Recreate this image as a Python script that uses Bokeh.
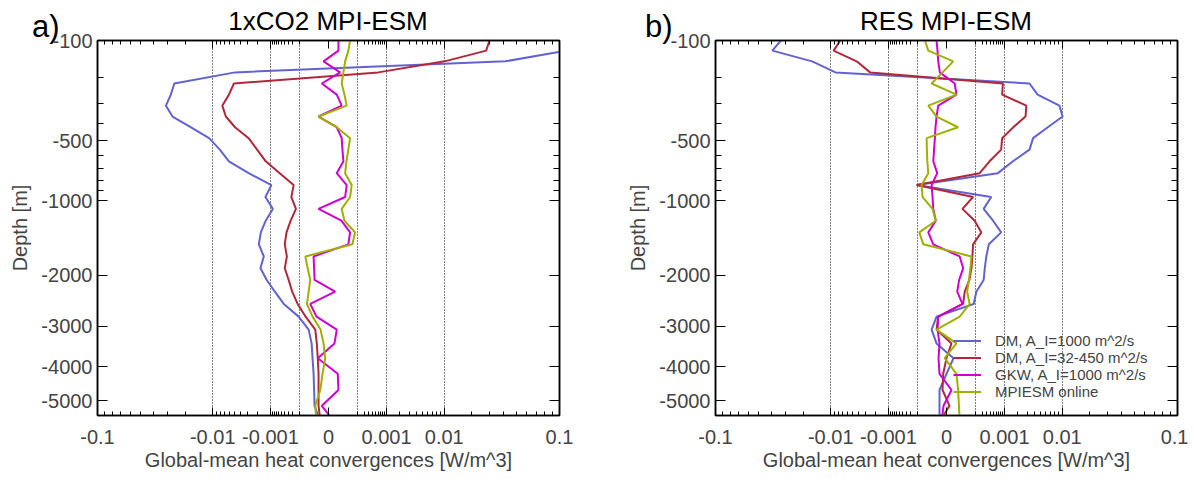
import numpy as np
from bokeh.plotting import figure
from bokeh.models import (Range1d, FixedTicker, LinearAxis, CustomJSTickFormatter, Div)
from bokeh.layouts import row, column
from bokeh.embed import file_html
from bokeh.resources import INLINE

# ---------------- data (W/m^3 at MPIOM L40 level depths, m) ----------------
depth = [100, 122.5, 150, 182.5, 220, 262.5, 310, 362.5, 420, 485,
         560, 645, 740, 845, 960, 1085, 1220, 1365, 1525, 1700,
         1885, 2080, 2290, 2525, 2785, 3070, 3395, 3770, 4195, 4670,
         5170, 5720]

labels = ["DM, A_I=1000 m^2/s", "DM, A_I=32-450 m^2/s",
          "GKW, A_I=1000 m^2/s", "MPIESM online"]
colors = ["#6262d0", "#b0283a", "#d000d0", "#a0b000"]

# panel a) 1xCO2 MPI-ESM
a_dm1000 = [0.17, 0.11, 0.041, -0.0049, -0.026, -0.028, -0.031, -0.027, -0.0179, -0.0111,
            -0.0081, -0.00605, -0.0029, -9.5e-4, -1.32e-3, -8.7e-4, -1.3e-3, -1.67e-3, -1.84e-3, -1.44e-3,
            -1.7e-3, -1.23e-3, -7.7e-4, -4.2e-4, -1.09e-4, -2.8e-5, -1.64e-5, -1.35e-5, -1.08e-5, -9.6e-6,
            -8.6e-6, -1.33e-6]
a_dm32 = [0.030, 0.028, 0.0101, 6.0e-4, -5.1e-3, -6.05e-3, -7.5e-3, -6.7e-3, -4.9e-3, -2.9e-3,
          -2.0e-3, -1.3e-3, -5.6e-4, -1.83e-4, -2.26e-4, -1.46e-4, -2.4e-4, -3.4e-4, -3.9e-4, -3.3e-4,
          -3.9e-4, -2.85e-4, -2.1e-4, -1.22e-4, -4.5e-5, -7.2e-6, -4.8e-6, -3.6e-6, -2.8e-6, -2.8e-6,
          -2.8e-6, -1.33e-6]
a_gkw = [2.8e-6, 2.8e-6, -2.8e-7, 4.7e-6, -7.4e-7, 1.5e-6, 7.2e-6, -2.8e-6, 1.5e-6, 7.2e-6,
         8.6e-6, 1.08e-5, 1.5e-6, 2.1e-5, 1.55e-5, -2.8e-6, 6.7e-6, 3.7e-5, 2.8e-5, -1.08e-5,
         -9.6e-6, -8.6e-6, 7.4e-7, -2.1e-5, -5.2e-6, 1.5e-6, 5.1e-7, -3.6e-6, 2.2e-6, 2.8e-6,
         -7.4e-7, 5.1e-7]
a_online = [3.7e-5, 2.8e-5, 1.55e-5, 1.08e-5, 7.2e-6, 1.35e-5, 2.1e-5, -2.8e-6, 1.5e-6, 3.7e-5,
            2.8e-5, 2.0e-5, 1.55e-5, 4.7e-5, 3.7e-5, 7.2e-6, 1.35e-5, 7.4e-5, 5.2e-5, -4.7e-5,
            -3.3e-5, -2.1e-5, -2.8e-5, -3.7e-5, -1.35e-5, -1.33e-6, -2.8e-7, -7e-8, -5.1e-7, -1.5e-6,
            -7.2e-6, -5.2e-6]

# panel b) RES MPI-ESM
b_dm1000 = [-0.033, -0.039, -0.0164, -8.7e-3, 3.3e-3, 4.5e-3, 9.2e-3, 0.0101, 6.4e-3, 3.8e-3,
            3.3e-3, 1.57e-3, 6.7e-4, -1.09e-4, 4.2e-4, 2.26e-4, 4.8e-4, 8.2e-4, 3.5e-4, 2.85e-4,
            2.5e-4, 2.26e-4, 1.09e-4, 8.0e-5, -2.8e-6, -1.08e-5, -2.8e-6, 8.6e-7, 0.0, -8.6e-7,
            -8.6e-7, -8.6e-7]
b_dm32 = [-7.5e-3, -9.2e-3, -4.3e-3, -2.5e-3, 9.1e-4, 8.7e-4, 2.9e-3, 2.8e-3, 1.6e-3, 8.7e-4,
          8.2e-4, 3.7e-4, 1.55e-4, -1.09e-4, 7.4e-5, 1.35e-5, 9.0e-5, 1.83e-4, 7.4e-5, 6.8e-5,
          6.0e-5, 4.5e-5, 2.1e-5, 1.55e-5, -1.5e-6, -2.8e-6, 2.8e-7, 0.0, -7e-8, -1.3e-7,
          5.1e-8, -8.6e-7]
b_gkw = [-2.8e-6, -2.0e-6, -1.5e-6, -7.4e-7, 1.5e-6, 2.8e-6, -1.5e-6, -2.8e-6, -3.9e-6, -4.7e-6,
         -5.9e-6, -7.2e-6, -2.2e-6, -1.08e-5, -8.6e-6, -7.2e-6, -3.6e-6, -2.1e-5, -7.2e-6, 7.2e-6,
         1.55e-5, 6.2e-6, 3.6e-6, 1.35e-5, -1.5e-6, -2.0e-6, -8.6e-7, -1.33e-6, -8.6e-7, 2.8e-7,
         -5.1e-8, -2.8e-7]
b_online = [-3.7e-5, -2.1e-5, 7.4e-7, -1.3e-7, -1.08e-5, 2.8e-6, -2.1e-5, -2.8e-6, 4.7e-6, -2.8e-5,
            -2.7e-5, -2.5e-5, -2.1e-5, -6.0e-5, -5.2e-5, -8.6e-6, -3.6e-6, -8.0e-5, -4.7e-5, 6.0e-5,
            5.2e-5, 4.2e-5, 3.2e-5, 4.7e-5, 7.2e-6, -2.8e-6, 2.8e-6, -1e-8, 2.8e-6, 4.7e-6,
            5.9e-6, 7.2e-6]

# axis tick values
x_major = [-0.1, -0.01, -0.001, 0.0, 0.001, 0.01, 0.1]
x_minor_pos = [0.02, 0.03, 0.04, 0.05, 0.06, 0.07, 0.08, 0.09,
               0.002, 0.003, 0.004, 0.005, 0.006, 0.007, 0.008, 0.009,
               0.0001, 0.0002, 0.0003, 0.0004, 0.0005, 0.0006, 0.0007, 0.0008, 0.0009]
x_grid = [-0.01, -0.001, -0.0001, 0.0001, 0.001, 0.01]
y_major = [100, 500, 1000, 2000, 3000, 4000, 5000]
y_minor = [200, 300, 400, 600, 700, 800, 900]
x_lim = (-0.1, 0.1)
depth_lim = (100, 5494)

# ---------------- scale transforms (power 0.3 axes) ----------------
P = 0.3


def tx(v):
    v = np.asarray(v, dtype=float)
    return np.sign(v) * np.abs(v) ** P


def ty(d):
    return -np.asarray(d, dtype=float) ** P


FONT = "Liberation Sans"
FW, FH = 462, 375
HEAD = 26          # header (tag + title) height; text overflows into transparent border
TOPB = 14          # figure border above the frame

xfmt = CustomJSTickFormatter(code="""
const v = Math.sign(tick) * Math.pow(Math.abs(tick), 1/0.3);
if (Math.abs(v) < 1e-9) { return "0"; }
return String(Number(v.toPrecision(1)));
""")
yfmt = CustomJSTickFormatter(code="""
return "-" + Math.round(Math.pow(-tick, 1/0.3));
""")
blank = CustomJSTickFormatter(code='return "";')


def style_axis(ax, labels_on):
    ax.axis_line_color = "black"
    ax.axis_line_width = 1.5
    ax.major_tick_line_color = "black"
    ax.minor_tick_line_color = "black"
    ax.major_tick_out = 0
    ax.minor_tick_out = 0
    if not labels_on:
        ax.formatter = blank
        ax.major_label_text_font_size = "1px"
        ax.major_label_standoff = 0


def header(title, tag, bl, br, tag_left):
    w = bl + FW + br
    cx = bl + FW / 2
    html = (
        f'<div style="position:relative;width:{w}px;height:{HEAD}px;overflow:visible;'
        f'font-family:\'{FONT}\',Arial,sans-serif;color:#000;margin:0;padding:0;">'
        f'<span style="position:absolute;left:{tag_left}px;top:11px;font-size:31px;'
        f'line-height:1;white-space:nowrap;">{tag}</span>'
        f'<span style="position:absolute;left:{cx}px;top:7.5px;font-size:26px;line-height:1;'
        f'white-space:nowrap;transform:translateX(-50%);">{title}</span>'
        '</div>'
    )
    return Div(text=html, width=w, height=HEAD, margin=0, styles={"overflow": "visible"})


def make_panel(series, bl, br, legend):
    xt = FixedTicker(ticks=list(tx(x_major)),
                     minor_ticks=list(tx(x_minor_pos)) + list(tx([-m for m in x_minor_pos])))
    yt = FixedTicker(ticks=list(ty(y_major)), minor_ticks=list(ty(y_minor)))
    p = figure(frame_width=FW, frame_height=FH,
               min_border_left=bl, min_border_right=br, min_border_top=TOPB, min_border_bottom=0,
               x_range=Range1d(*tx(list(x_lim))), y_range=Range1d(ty(depth_lim[1]), ty(depth_lim[0])),
               output_backend="svg", toolbar_location=None, margin=0)
    p.outline_line_color = "black"
    p.outline_line_width = 1.5
    p.background_fill_color = "white"
    p.border_fill_alpha = 0

    # bottom axis
    xa = p.xaxis[0]
    xa.ticker = xt
    xa.formatter = xfmt
    style_axis(xa, True)
    xa.major_tick_in = 8
    xa.minor_tick_in = 4
    xa.major_label_standoff = 14
    xa.major_label_text_font = FONT
    xa.major_label_text_font_size = "20px"
    xa.axis_label = "Global-mean heat convergences [W/m^3]"
    xa.axis_label_text_font = FONT
    xa.axis_label_text_font_size = "20px"
    xa.axis_label_text_font_style = "normal"
    xa.axis_label_standoff = 2

    # left axis
    ya = p.yaxis[0]
    ya.ticker = yt
    ya.formatter = yfmt
    style_axis(ya, True)
    ya.major_tick_in = 10
    ya.minor_tick_in = 6
    ya.major_label_standoff = 5
    ya.major_label_text_font = FONT
    ya.major_label_text_font_size = "20px"
    ya.axis_label = "Depth [m]"
    ya.axis_label_text_font = FONT
    ya.axis_label_text_font_size = "20px"
    ya.axis_label_text_font_style = "normal"
    ya.axis_label_standoff = 7

    # top / right mirror axes (ticks only)
    top = LinearAxis(ticker=xt)
    style_axis(top, False)
    top.major_tick_in = 8
    top.minor_tick_in = 4
    p.add_layout(top, "above")
    right = LinearAxis(ticker=yt)
    style_axis(right, False)
    right.major_tick_in = 10
    right.minor_tick_in = 6
    p.add_layout(right, "right")

    # dotted reference lines
    p.xgrid.ticker = FixedTicker(ticks=list(tx(x_grid)))
    p.xgrid.grid_line_color = "black"
    p.xgrid.grid_line_dash = "1 2"
    p.xgrid.grid_line_width = 1
    p.ygrid.visible = False

    yy = ty(depth)
    for vals, col, lab in zip(series, colors, labels):
        if legend:
            p.line(tx(vals), yy, line_color=col, line_width=2, legend_label=lab)
        else:
            p.line(tx(vals), yy, line_color=col, line_width=2)

    if legend:
        lg = p.legend[0]
        lg.location = (238, 15)
        lg.padding = 0
        lg.margin = 0
        lg.spacing = 0
        lg.border_line_alpha = 0
        lg.background_fill_alpha = 0
        lg.glyph_width = 28
        lg.glyph_height = 17
        lg.label_height = 17
        lg.label_standoff = 14
        lg.label_text_font = FONT
        lg.label_text_font_size = "15px"
    return p


BL_A, BR_A = 97, 44
BL_B, BR_B = 112, 11
pa = make_panel([a_dm1000, a_dm32, a_gkw, a_online], BL_A, BR_A, False)
pb = make_panel([b_dm1000, b_dm32, b_gkw, b_online], BL_B, BR_B, True)
ha = header("1xCO2 MPI-ESM", "a)", BL_A, BR_A, 32)
hb = header("RES MPI-ESM", "b)", BL_B, BR_B, 42)

layout = row(column(ha, pa, spacing=0), column(hb, pb, spacing=0), spacing=0)
open("out.html", "w").write(file_html(layout, INLINE))
